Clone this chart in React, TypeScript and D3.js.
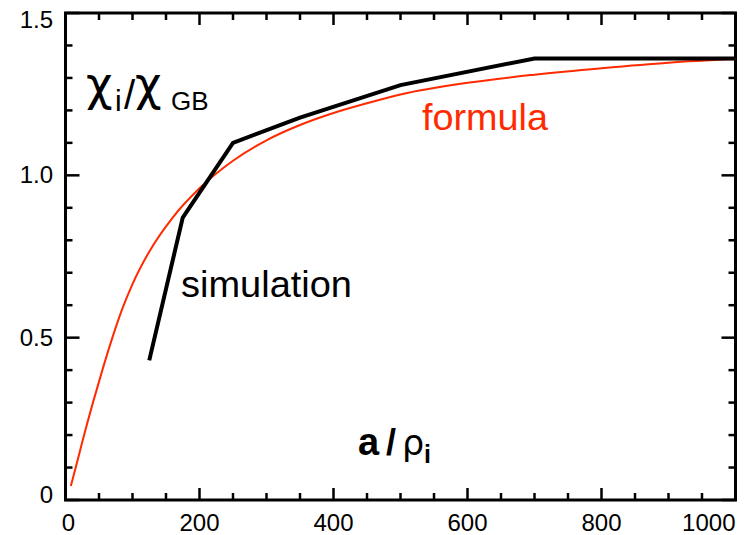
import React from "react";
import * as d3 from "d3";

const simX = [125, 175, 250, 350, 500, 700, 1000];
const simY = [0.43, 0.87, 1.1, 1.178, 1.278, 1.36, 1.36];

const formulaX = [8, 20, 30, 40, 55, 70, 85, 100, 125, 160, 200, 250, 300, 350, 400, 450, 500, 600, 700, 800, 900, 1000];
const formulaY = [0.043, 0.138, 0.218, 0.293, 0.40, 0.50, 0.59, 0.665, 0.765, 0.87, 0.96, 1.045, 1.108, 1.155, 1.192, 1.222, 1.249, 1.285, 1.31, 1.33, 1.347, 1.358];

const xTickValues = [0, 200, 400, 600, 800, 1000];
const xTickLabels = ["0", "200", "400", "600", "800", "1000"];
const yTickValues = [0, 0.5, 1.0, 1.5];
const yTickLabels = ["0", "0.5", "1.0", "1.5"];

const W = 745;
const H = 535;
const L = 65.5, R = 735.5, T = 13, B = 500;

export default function App() {
  const x = d3.scaleLinear().domain([0, 1000]).range([L, R]);
  const y = d3.scaleLinear().domain([0, 1.5]).range([B, T]);
  const line = d3.line<[number, number]>().x(d => x(d[0])).y(d => y(d[1]));
  const smooth = d3.line<[number, number]>().x(d => x(d[0])).y(d => y(d[1])).curve(d3.curveMonotoneX);
  const simPath = line(simX.map((v, i) => [v, simY[i]] as [number, number])) || "";
  const formPath = smooth(formulaX.map((v, i) => [v, formulaY[i]] as [number, number])) || "";

  const xMinor = d3.range(0, 1001, 50);
  const yMinor = d3.range(0, 1.501, 0.1);
  const font = "'Liberation Sans', Arial, Helvetica, sans-serif";
  const greek = "'DejaVu Sans', sans-serif";

  const yLabelDy = (v: number) => (v === 1.5 ? 15 : v === 0 ? 3 : 8);
  const xLabelX = (v: number, i: number) => (i === 0 ? x(v) + 3 : x(v));

  return (
    <svg width={W} height={H} style={{ position: "absolute", left: 0, top: 0, background: "#fff" }} fontFamily={font}>
      <rect x={0} y={0} width={W} height={H} fill="#fff" />
      {xMinor.map(v => {
        const major = v % 200 === 0;
        const len = major ? 12 : 7;
        return (
          <g key={"xt" + v}>
            <line x1={x(v)} x2={x(v)} y1={B} y2={B - len} stroke="#000" strokeWidth={2.5} />
            <line x1={x(v)} x2={x(v)} y1={T} y2={T + len} stroke="#000" strokeWidth={2.5} />
          </g>
        );
      })}
      {yMinor.map(v => {
        const major = Math.abs(v * 2 - Math.round(v * 2)) < 1e-6;
        const len = major ? 14 : 7;
        return (
          <g key={"yt" + v.toFixed(2)}>
            <line x1={L} x2={L + len} y1={y(v)} y2={y(v)} stroke="#000" strokeWidth={2.5} />
            <line x1={R} x2={R - len} y1={y(v)} y2={y(v)} stroke="#000" strokeWidth={2.5} />
          </g>
        );
      })}
      <rect x={L} y={T} width={R - L} height={B - T} fill="none" stroke="#000" strokeWidth={3} />

      {yTickValues.map((v, i) => (
        <text key={"yl" + i} x={53} y={y(v) + yLabelDy(v)} textAnchor="end" fontSize={24} fill="#000">
          {yTickLabels[i]}
        </text>
      ))}
      {xTickValues.map((v, i) => (
        <text
          key={"xl" + i}
          x={i === xTickValues.length - 1 ? R : xLabelX(v, i)}
          y={531}
          textAnchor={i === xTickValues.length - 1 ? "end" : "middle"}
          fontSize={24}
          fill="#000"
        >
          {xTickLabels[i]}
        </text>
      ))}

      <path d={formPath} fill="none" stroke="#ff2a00" strokeWidth={2} />
      <path d={simPath} fill="none" stroke="#000" strokeWidth={4} strokeLinejoin="miter" />

      <text x={422} y={130} fontSize={36} fill="#ff2a00" textLength={126} lengthAdjust="spacingAndGlyphs">formula</text>
      <text x={181} y={297} fontSize={36} fill="#000" textLength={171} lengthAdjust="spacingAndGlyphs">simulation</text>

      {/* y title */}
      <text x={86} y={100} fontSize={46} fontFamily={greek} fill="#000">χ</text>
      <text x={115} y={111} fontSize={30} fill="#000">i</text>
      <text x={124} y={109} fontSize={40} fill="#000">/</text>
      <text x={135} y={100} fontSize={46} fontFamily={greek} fill="#000">χ</text>
      <text x={171} y={110} fontSize={26} fill="#000">GB</text>

      {/* x title */}
      <text x={358} y={455} fontSize={38} fontWeight="bold" fill="#000">a</text>
      <text x={386} y={455} fontSize={36} fontWeight="bold" fill="#000">/</text>
      <text x={402} y={455} fontSize={35} fontFamily={greek} fill="#000">ρ</text>
      <text x={424} y={463} fontSize={25} fontWeight="bold" fill="#000">i</text>
    </svg>
  );
}
